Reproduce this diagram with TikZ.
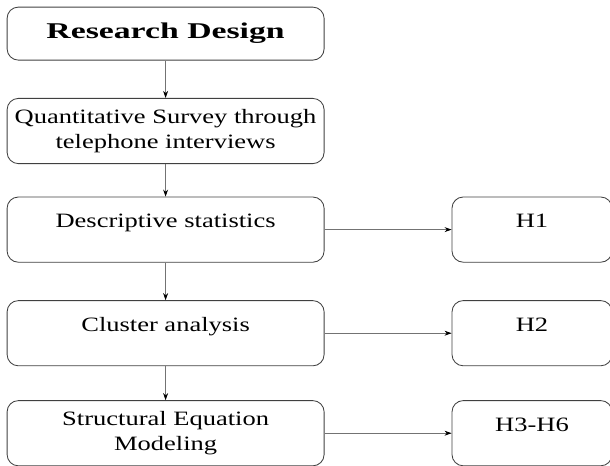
\documentclass[tikz,border=0pt]{standalone}
\usepackage{fontspec}
\setmainfont{Liberation Serif}
\newfontfamily\widefont[FakeStretch=1.3]{Liberation Serif}
\newfontfamily\widebold[FakeStretch=1.5]{Liberation Serif Bold}
\usetikzlibrary{arrows.meta}
\begin{document}
\begin{tikzpicture}[
  box/.style={rectangle, draw=black!75, rounded corners=8pt, line width=0.6pt,
    minimum width=7.925cm, minimum height=1.63cm, align=center, font=\widefont\fontsize{14.5}{17.5}\selectfont},
  hbox/.style={box, minimum width=4cm},
  raised/.style={text height=0.45cm, text depth=0.55cm},
  link/.style={draw=black!55, line width=0.5pt, -{Stealth[length=5pt,width=3.5pt,black]}}
]
\useasboundingbox (0,0) rectangle (15.25,-11.625);
\node[box, minimum height=1.325cm, font=\widebold\fontsize{16}{19}\selectfont] (design) at (4.14,-0.84) {Research Design};
\node[box] (survey) at (4.14,-3.275) {Quantitative Survey through\\telephone interviews};
\node[box, raised] (descr) at (4.14,-5.74) {Descriptive statistics};
\node[box, raised] (cluster) at (4.14,-8.33) {Cluster analysis};
\node[box] (sem) at (4.14,-10.83) {Structural Equation\\Modeling};
\node[hbox, raised] (h1) at (13.3,-5.74) {H1};
\node[hbox, raised] (h2) at (13.3,-8.33) {H2};
\node[hbox, raised] (h3) at (13.3,-10.83) {H3-H6};
\draw[link] (design) -- (survey);
\draw[link] (survey) -- (descr);
\draw[link] (descr) -- (cluster);
\draw[link] (cluster) -- (sem);
\draw[link] (descr) -- (h1);
\draw[link] (cluster) -- (h2);
\draw[link] (sem) -- (h3);
\end{tikzpicture}
\end{document}
